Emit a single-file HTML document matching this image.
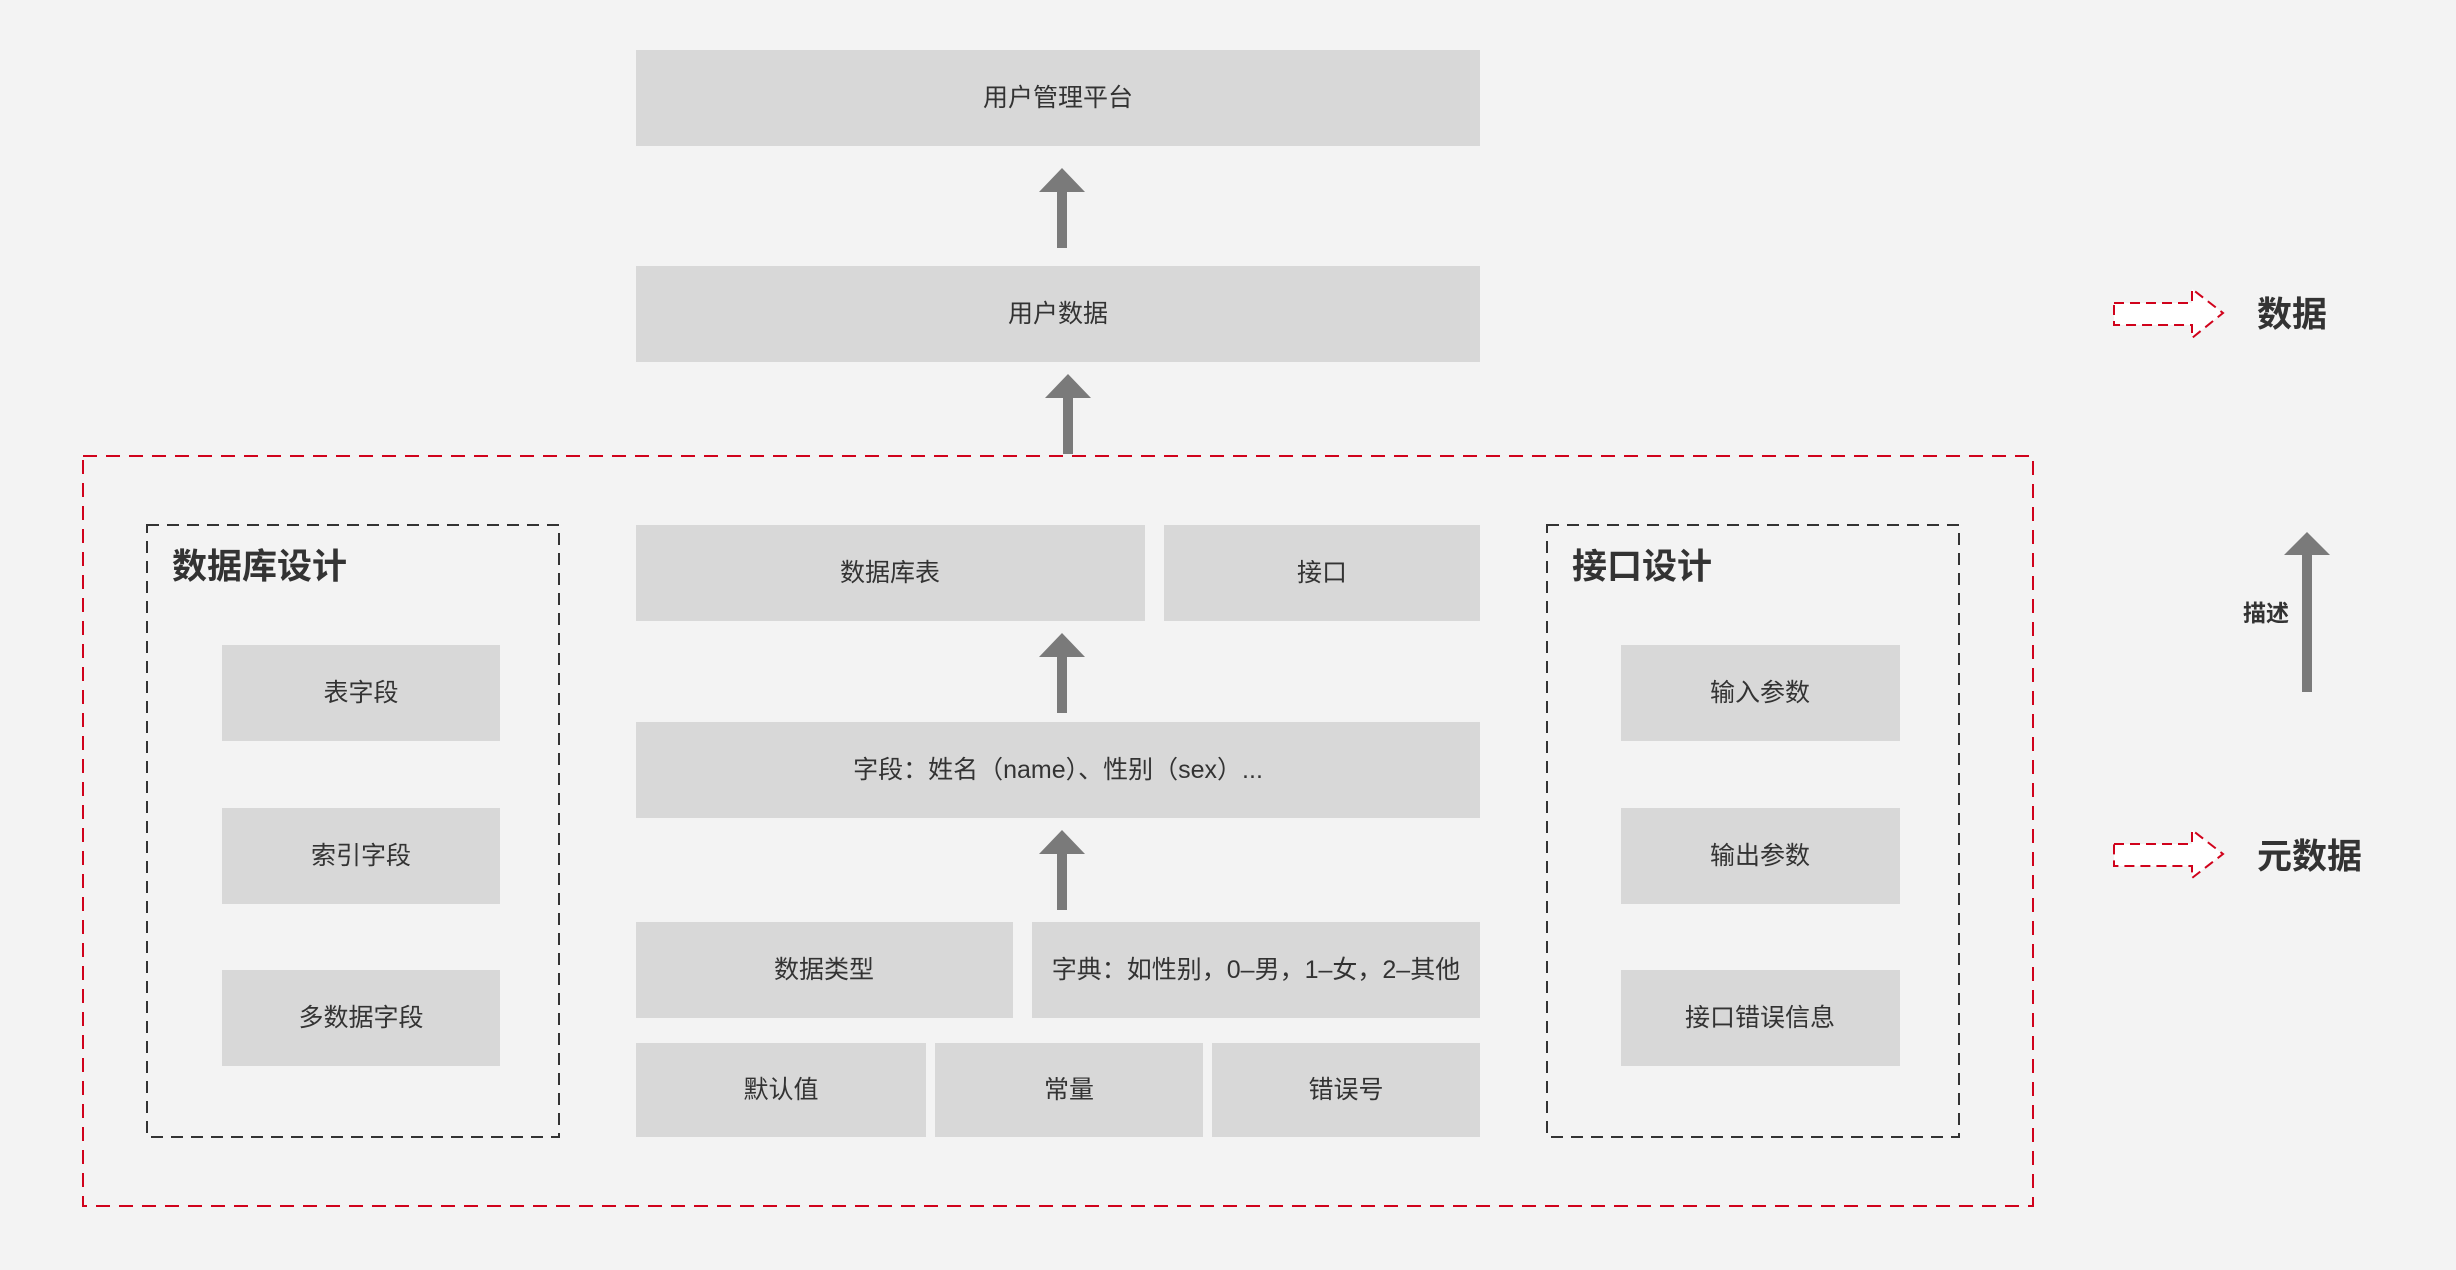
<!DOCTYPE html>
<html><head><meta charset="utf-8"><style>
html,body{margin:0;padding:0;background:#f3f3f3;}
svg{display:block}
text{font-family:"Liberation Sans","Noto Sans CJK SC",sans-serif;fill:#333;}
.b{fill:#d8d8d8}
.t{font-size:25px;text-anchor:middle;dominant-baseline:central}
.h{font-size:35px;font-weight:bold;dominant-baseline:central}
.a{fill:#7a7a7a}
</style></head><body>
<svg width="2456" height="1270" viewBox="0 0 2456 1270" xmlns="http://www.w3.org/2000/svg">
<rect width="2456" height="1270" fill="#f3f3f3"/>
<rect class="b" x="636" y="50" width="844" height="96"/>
<text class="t" x="1058" y="98">用户管理平台</text>
<rect class="b" x="636" y="266" width="844" height="96"/>
<text class="t" x="1058" y="314">用户数据</text>
<g class="a">
<polygon points="1062,168 1085,192 1067,192 1067,248 1057,248 1057,192 1039,192"/>
<polygon points="1068,374 1091,398 1073,398 1073,454 1063,454 1063,398 1045,398"/>
<polygon points="1062,633 1085,657 1067,657 1067,713 1057,713 1057,657 1039,657"/>
<polygon points="1062,830 1085,854 1067,854 1067,910 1057,910 1057,854 1039,854"/>
<polygon points="2307,532 2330,555 2312,555 2312,692 2302,692 2302,555 2284,555"/>
</g>
<rect x="83" y="456" width="1950" height="750" fill="none" stroke="#d0021b" stroke-width="2" stroke-dasharray="14,9"/>
<rect x="147" y="525" width="412" height="612" fill="none" stroke="#333" stroke-width="2" stroke-dasharray="12,8"/>
<text class="h" x="172" y="567">数据库设计</text>
<rect class="b" x="222" y="645" width="278" height="96"/><text class="t" x="361" y="693">表字段</text>
<rect class="b" x="222" y="808" width="278" height="96"/><text class="t" x="361" y="856">索引字段</text>
<rect class="b" x="222" y="970" width="278" height="96"/><text class="t" x="361" y="1018">多数据字段</text>
<rect class="b" x="636" y="525" width="509" height="96"/><text class="t" x="890" y="573">数据库表</text>
<rect class="b" x="1164" y="525" width="316" height="96"/><text class="t" x="1322" y="573">接口</text>
<rect class="b" x="636" y="722" width="844" height="96"/><text class="t" x="1058" y="770">字段：姓名（name）、性别（sex）...</text>
<rect class="b" x="636" y="922" width="377" height="96"/><text class="t" x="824" y="970">数据类型</text>
<rect class="b" x="1032" y="922" width="448" height="96"/><text class="t" x="1256" y="970">字典：如性别，0–男，1–女，2–其他</text>
<rect class="b" x="636" y="1043" width="290" height="94"/><text class="t" x="781" y="1090">默认值</text>
<rect class="b" x="935" y="1043" width="268" height="94"/><text class="t" x="1069" y="1090">常量</text>
<rect class="b" x="1212" y="1043" width="268" height="94"/><text class="t" x="1346" y="1090">错误号</text>
<rect x="1547" y="525" width="412" height="612" fill="none" stroke="#333" stroke-width="2" stroke-dasharray="12,8"/>
<text class="h" x="1572" y="567">接口设计</text>
<rect class="b" x="1621" y="645" width="279" height="96"/><text class="t" x="1760" y="693">输入参数</text>
<rect class="b" x="1621" y="808" width="279" height="96"/><text class="t" x="1760" y="856">输出参数</text>
<rect class="b" x="1621" y="970" width="279" height="96"/><text class="t" x="1760" y="1018">接口错误信息</text>
<polygon points="2114,303 2192,303 2192,289 2223,313 2192,338 2192,325 2114,325" fill="#fff" stroke="#d0021b" stroke-width="2" stroke-dasharray="10,6"/>
<text class="h" x="2257" y="315">数据</text>
<polygon points="2114,844 2192,844 2192,830 2223,854 2192,878 2192,866 2114,866" fill="#fff" stroke="#d0021b" stroke-width="2" stroke-dasharray="10,6"/>
<text class="h" x="2257" y="857">元数据</text>
<text x="2266" y="613" style="font-size:23px;font-weight:bold;text-anchor:middle;dominant-baseline:central">描述</text>
</svg>
</body></html>
